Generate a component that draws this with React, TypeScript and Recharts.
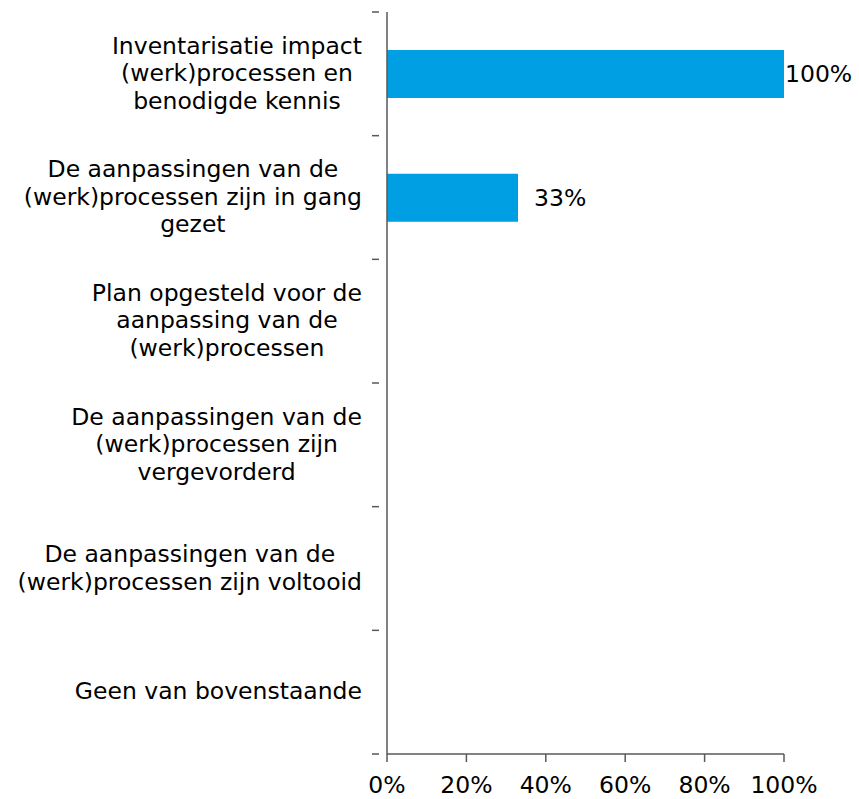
import React from 'react';
import { BarChart, Bar, XAxis, YAxis, LabelList } from 'recharts';

const categories = [
  'Inventarisatie impact\n(werk)processen en\nbenodigde kennis',
  'De aanpassingen van de\n(werk)processen zijn in gang\ngezet',
  'Plan opgesteld voor de\naanpassing van de\n(werk)processen',
  'De aanpassingen van de\n(werk)processen zijn\nvergevorderd',
  'De aanpassingen van de\n(werk)processen zijn voltooid',
  'Geen van bovenstaande',
];
const values = [100, 33, 0, 0, 0, 0];
const xTicks = [0, 20, 40, 60, 80, 100];

const data = categories.map((name, i) => ({ name, value: values[i] }));

const W = 859;
const H = 799;
const TOP = 12;
const BOTTOM = 45;
const AXIS_W = 387;
const FONT = '"DejaVu Sans", Verdana, sans-serif';
const FS = 23.5;
const AXIS_COLOR = '#595959';
const bandSize = (H - TOP - BOTTOM) / categories.length;

const CategoryTick = (props: any) => {
  const { x, y, payload, index } = props;
  const lines = String(payload.value).split('\n');
  const axisX = x;
  return (
    <g>
      <line x1={axisX - 7} x2={axisX} y1={y - bandSize / 2} y2={y - bandSize / 2} stroke={AXIS_COLOR} strokeWidth={1.5} />
      {index === categories.length - 1 && (
        <line x1={axisX - 7} x2={axisX} y1={y + bandSize / 2} y2={y + bandSize / 2} stroke={AXIS_COLOR} strokeWidth={1.5} />
      )}
      <foreignObject x={0} y={y - 60} width={axisX - 17} height={120}>
        <div
          style={{
            width: '100%',
            height: '100%',
            display: 'flex',
            alignItems: 'center',
            justifyContent: 'flex-end',
          }}
        >
          <div style={{ textAlign: 'center', fontFamily: FONT, fontSize: FS, lineHeight: '27.5px', color: '#000' }}>
            {lines.map((l, i) => (
              <div key={i} style={{ whiteSpace: 'nowrap' }}>{l}</div>
            ))}
          </div>
        </div>
      </foreignObject>
    </g>
  );
};

const ValueLabel = (props: any) => {
  const { x, y, width, height, value } = props;
  if (!value) return null;
  const gap = value >= 100 ? 1 : 16;
  return (
    <text
      x={x + width + gap}
      y={y + height / 2}
      dominantBaseline="central"
      fontFamily={FONT}
      fontSize={FS}
      fill="#000"
    >
      {`${value}%`}
    </text>
  );
};

export default function App() {
  return (
    <div style={{ position: 'absolute', left: 0, top: 0, background: '#fff' }}>
      <BarChart
        width={W}
        height={H}
        data={data}
        layout="vertical"
        margin={{ top: TOP, right: 75, bottom: 0, left: 0 }}
      >
        <XAxis
          type="number"
          domain={[0, 100]}
          ticks={xTicks}
          tickFormatter={(v) => `${v}%`}
          height={BOTTOM}
          axisLine={{ stroke: AXIS_COLOR, strokeWidth: 1.5 }}
          tickLine={{ stroke: AXIS_COLOR, strokeWidth: 1.5 }}
          tickSize={8}
          tickMargin={14}
          tick={{ fill: '#000', fontFamily: FONT, fontSize: FS }}
          interval={0}
        />
        <YAxis
          type="category"
          dataKey="name"
          width={AXIS_W}
          axisLine={{ stroke: AXIS_COLOR, strokeWidth: 1.5 }}
          tickLine={false}
          tick={<CategoryTick />}
          interval={0}
        />
        <Bar dataKey="value" fill="#009FE3" barSize={48} isAnimationActive={false}>
          <LabelList dataKey="value" content={<ValueLabel />} />
        </Bar>
      </BarChart>
    </div>
  );
}
